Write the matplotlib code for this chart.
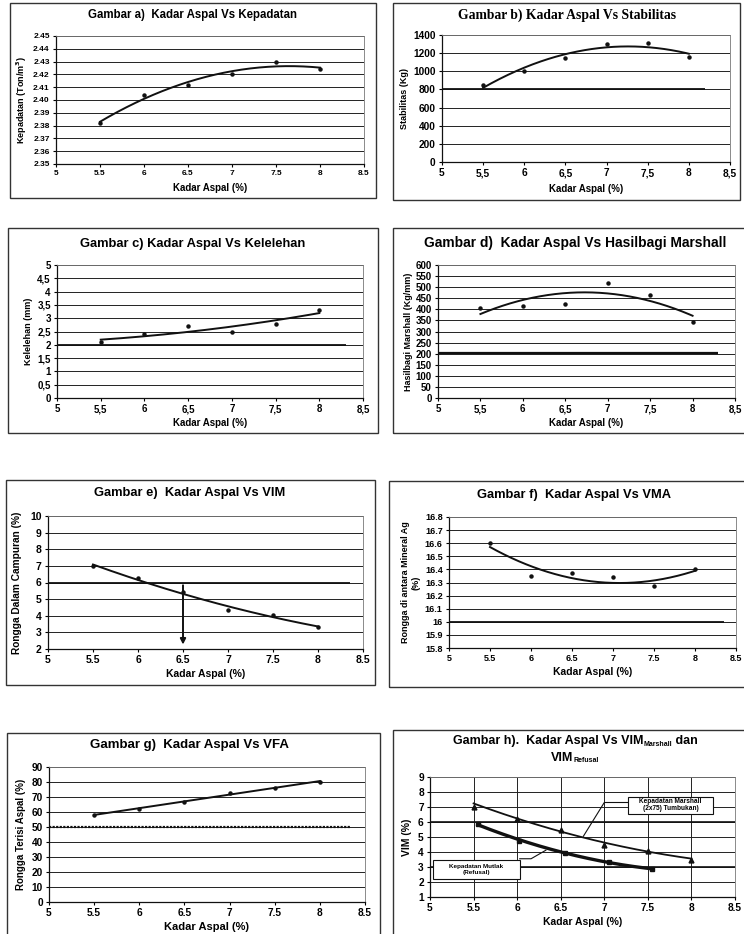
import numpy as np
import matplotlib
matplotlib.use("Agg")
import matplotlib.pyplot as plt
from matplotlib.patches import Rectangle

plt.rcParams['font.family'] = ['Liberation Sans', 'DejaVu Sans']
plt.rcParams['font.weight'] = 'bold'

W, H = 744, 934
fig = plt.figure(figsize=(W / 100, H / 100), dpi=100)
fig.patch.set_facecolor('white')

# ---------------- data ----------------
kadar = [5.5, 6.0, 6.5, 7.0, 7.5, 8.0]
x_ticks = [5, 5.5, 6, 6.5, 7, 7.5, 8, 8.5]

kepadatan = [2.382, 2.404, 2.412, 2.420, 2.430, 2.424]
stabilitas = [850, 1000, 1150, 1300, 1310, 1160]
kelelehan = [2.1, 2.4, 2.7, 2.5, 2.8, 3.3]
hasilbagi = [405, 415, 425, 520, 465, 345]
vim = [7.02, 6.25, 5.4, 4.35, 4.02, 3.35]
vma = [16.60, 16.35, 16.37, 16.34, 16.27, 16.40]
vfa = [58, 62, 67, 73, 76, 80]
vim_marshall = [7.0, 6.2, 5.45, 4.5, 4.1, 3.45]
vim_marshall_trend = [7.25, 6.2, 5.4, 4.6, 4.05, 3.55]
kadar_refusal = [5.55, 6.02, 6.55, 7.05, 7.55]
vim_refusal = [5.85, 4.75, 3.95, 3.35, 2.85]

spec_b, spec_b_end = 800, 8.2
spec_c, spec_c_end = 2.0, 8.3
spec_d, spec_d_end = 205, 8.3
spec_e, spec_e_end = 6.0, 8.35
spec_f, spec_f_end = 16.0, 8.35
spec_g, spec_g_end = 50, 8.35
arrow_e_x, arrow_e_top, arrow_e_bot = 6.5, 6.0, 2.1
spec_h = [6.0, 3.0]


def fmt(v, comma):
    s = ('%g' % v)
    return s.replace('.', ',') if comma else s


def box(x0, y0, x1, y1):
    fig.add_artist(Rectangle((x0 / W, 1 - y1 / H), (x1 - x0) / W, (y1 - y0) / H,
                             transform=fig.transFigure, fill=False,
                             ec='#333333', lw=1.0))


def make_ax(x0, x1, ytop, ybot, ylim, yticks, ycomma=False, xcomma=False,
            ydec=None, vgrid=False, xlabels=None, ls=7):
    ax = fig.add_axes([x0 / W, 1 - ybot / H, (x1 - x0) / W, (ybot - ytop) / H])
    ax.set_xlim(5, 8.5)
    ax.set_ylim(*ylim)
    ax.set_xticks(x_ticks)
    ax.set_xticklabels(xlabels if xlabels else [fmt(v, xcomma) for v in x_ticks])
    ax.set_yticks(yticks)
    if ydec is not None:
        ax.set_yticklabels([('%.' + str(ydec) + 'f') % v for v in yticks])
    else:
        ax.set_yticklabels([fmt(v, ycomma) for v in yticks])
    ax.tick_params(labelsize=ls, length=2.5, width=0.8, pad=2, direction='out')
    for t in ax.get_xticklabels() + ax.get_yticklabels():
        t.set_fontweight('bold')
    ax.grid(axis='y', color='#222222', lw=0.7)
    if vgrid:
        ax.grid(axis='x', color='#222222', lw=0.7)
    ax.set_axisbelow(True)
    for s in ['left', 'bottom']:
        ax.spines[s].set_color('#111111')
        ax.spines[s].set_linewidth(0.9)
    for s in ['top', 'right']:
        ax.spines[s].set_color('#777777')
        ax.spines[s].set_linewidth(0.6)
    return ax


def trend(ax, x, y, deg=2, lw=1.4):
    x = np.asarray(x); y = np.asarray(y)
    c = np.polyfit(x, y, deg)
    xs = np.linspace(x.min(), x.max(), 200)
    ax.plot(xs, np.polyval(c, xs), color='#111111', lw=lw)


def points(ax, x, y, marker='o', ms=2.2):
    ax.plot(x, y, linestyle='none', marker=marker, ms=ms, color='#111111')


def title(xc, yc, s, serif=False, size=8):
    fig.text(xc / W, 1 - yc / H, s, ha='center', va='center', fontsize=size,
             fontweight='bold',
             family=['Liberation Serif'] if serif else ['Liberation Sans', 'DejaVu Sans'])


def rich_title(xc, ybase, parts):
    r = fig.canvas.get_renderer()
    objs = []
    for s, size, dy in parts:
        t = fig.text(0, 0, s, fontsize=size, fontweight='bold', ha='left', va='baseline')
        objs.append((t, dy))
    widths = [t.get_window_extent(r).width for t, _ in objs]
    x = xc - sum(widths) / 2
    for (t, dy), w in zip(objs, widths):
        t.set_position((x / W, 1 - (ybase + dy) / H))
        x += w


def labels(ax, xl, yl, xs=7, ys=6.5, xpad=3, ypad=3):
    ax.set_xlabel(xl, fontsize=xs, fontweight='bold', labelpad=xpad)
    ax.set_ylabel(yl, fontsize=ys, fontweight='bold', labelpad=ypad)


# ---------------- panel a ----------------
box(10, 3, 376, 198)
title(193, 15, 'Gambar a)  Kadar Aspal Vs Kepadatan', size=8.3)
ax = make_ax(56, 364, 36, 164, (2.35, 2.45), np.round(np.arange(2.35, 2.4501, 0.01), 2), ydec=2, ls=6)
points(ax, kadar, kepadatan)
trend(ax, kadar, kepadatan)
labels(ax, 'Kadar Aspal (%)', 'Kepadatan (Ton/m$^\\mathbf{3}$)', xpad=4)

# ---------------- panel b ----------------
box(393, 3, 740, 200)
title(567, 15, 'Gambar b) Kadar Aspal Vs Stabilitas', serif=True, size=9.8)
ax = make_ax(442, 730, 35, 162, (0, 1400), list(range(0, 1401, 200)), xcomma=True, ls=7.3)
ax.hlines(spec_b, 5, spec_b_end, color='#111111', lw=1.3)
points(ax, kadar, stabilitas)
trend(ax, kadar, stabilitas)
labels(ax, 'Kadar Aspal (%)', 'Stabilitas (Kg)', xpad=4)

# ---------------- panel c ----------------
box(8, 228, 378, 433)
title(193, 244, 'Gambar c) Kadar Aspal Vs Kelelehan', size=9.3)
ax = make_ax(57, 363, 265, 398, (0, 5), list(np.arange(0, 5.01, 0.5)), ycomma=True, xcomma=True)
ax.hlines(spec_c, 5, spec_c_end, color='#111111', lw=1.3)
points(ax, kadar, kelelehan)
trend(ax, kadar, kelelehan)
labels(ax, 'Kadar Aspal (%)', 'Kelelehan (mm)', xpad=3)

# ---------------- panel d ----------------
box(393, 228, 750, 433)
title(575, 243, 'Gambar d)  Kadar Aspal Vs Hasilbagi Marshall', size=9.9)
ax = make_ax(438, 735, 265, 398, (0, 600), list(range(0, 601, 50)), xcomma=True)
ax.hlines(spec_d, 5, spec_d_end, color='#111111', lw=1.6)
points(ax, kadar, hasilbagi)
trend(ax, kadar, hasilbagi)
labels(ax, 'Kadar Aspal (%)', 'Hasilbagi Marshall (Kg/mm)', xpad=3, ypad=2)

# ---------------- panel e ----------------
box(6, 480, 375, 685)
title(190, 493, 'Gambar e)  Kadar Aspal Vs VIM', size=9.3)
ax = make_ax(48, 363, 516, 649, (2, 10), list(range(2, 11)), ls=7.5)
ax.hlines(spec_e, 5, spec_e_end, color='#111111', lw=1.3)
points(ax, kadar, vim)
trend(ax, kadar, vim)
ax.annotate('', xy=(arrow_e_x, arrow_e_bot), xytext=(arrow_e_x, arrow_e_top),
            arrowprops=dict(arrowstyle='-|>', color='#111111', lw=1.4, mutation_scale=8))
labels(ax, 'Kadar Aspal (%)', 'Rongga Dalam Campuran (%)', xs=7.5, ys=7.3, ypad=6)

# ---------------- panel f ----------------
box(389, 481, 750, 687)
title(574, 495, 'Gambar f)  Kadar Aspal Vs VMA', size=9.3)
fticks = list(np.round(np.arange(15.8, 16.801, 0.1), 1))
ax = make_ax(449, 736, 517, 648, (15.8, 16.8), fticks, ls=6.5)
ax.set_yticklabels(['%g' % v for v in fticks])
ax.hlines(spec_f, 5, spec_f_end, color='#111111', lw=1.3)
points(ax, kadar, vma)
trend(ax, kadar, vma)
labels(ax, 'Kadar Aspal (%)', 'Rongga di antara Mineral Ag\n(%)', xs=7.5)

# ---------------- panel g ----------------
box(7, 733, 380, 945)
title(190, 745, 'Gambar g)  Kadar Aspal Vs VFA', size=9.5)
ax = make_ax(49, 365, 767, 902, (0, 90), list(range(0, 91, 10)), ls=7.3)
ax.hlines(spec_g, 5, spec_g_end, color='#111111', lw=1.6, linestyles=(0, (1, 0.6)))
points(ax, kadar, vfa)
trend(ax, kadar, vfa, deg=1)
labels(ax, 'Kadar Aspal (%)', 'Rongga Terisi Aspal (%)', xs=8, ys=7, ypad=4)

# ---------------- panel h ----------------
box(393, 730, 750, 945)
rich_title(575, 744, [('Gambar h).  Kadar Aspal Vs VIM', 9, 0), ('Marshall', 5, 1.5), (' dan', 9, 0)])
rich_title(575, 761, [('VIM', 9, 0), ('Refusal', 5, 1.5)])
ax = make_ax(430, 735, 777, 897, (1, 9), list(range(1, 10)), vgrid=True,
             xlabels=['5', '5.5', '6', '6.5', '7', '7.5', '8', '8.5'], ls=7.3)
ax.hlines(spec_h, 5, 8.5, color='#111111', lw=1.2)
trend(ax, kadar, vim_marshall_trend, lw=1.3)
trend(ax, kadar_refusal, vim_refusal, lw=2.4)
points(ax, kadar, vim_marshall, marker='^', ms=3.5)
points(ax, kadar_refusal, vim_refusal, marker='s', ms=2.6)
# annotation boxes with leader lines
ax.add_patch(Rectangle((7.27, 6.55), 0.98, 1.12, fc='white', ec='#111111', lw=0.8, zorder=5))
ax.text(7.76, 7.11, 'Kepadatan Marshall\n(2x75) Tumbukan)', ha='center', va='center',
        fontsize=4.7, fontweight='bold', zorder=6, linespacing=1.0)
ax.plot([6.76, 7.0, 7.27], [5.05, 7.3, 7.3], color='#111111', lw=0.8, zorder=4)
ax.add_patch(Rectangle((5.03, 2.2), 1.0, 1.3, fc='white', ec='#111111', lw=0.8, zorder=5))
ax.text(5.53, 2.85, 'Kepadatan Mutlak\n(Refusal)', ha='center', va='center',
        fontsize=4.6, fontweight='bold', zorder=6, linespacing=1.3)
ax.plot([6.03, 6.16, 6.33], [3.55, 3.55, 4.12], color='#111111', lw=0.8, zorder=4)
labels(ax, 'Kadar Aspal (%)', 'VIM (%)', xs=7.5, ys=7.5, ypad=4)

fig.savefig('out.png', dpi=100, facecolor='white')
